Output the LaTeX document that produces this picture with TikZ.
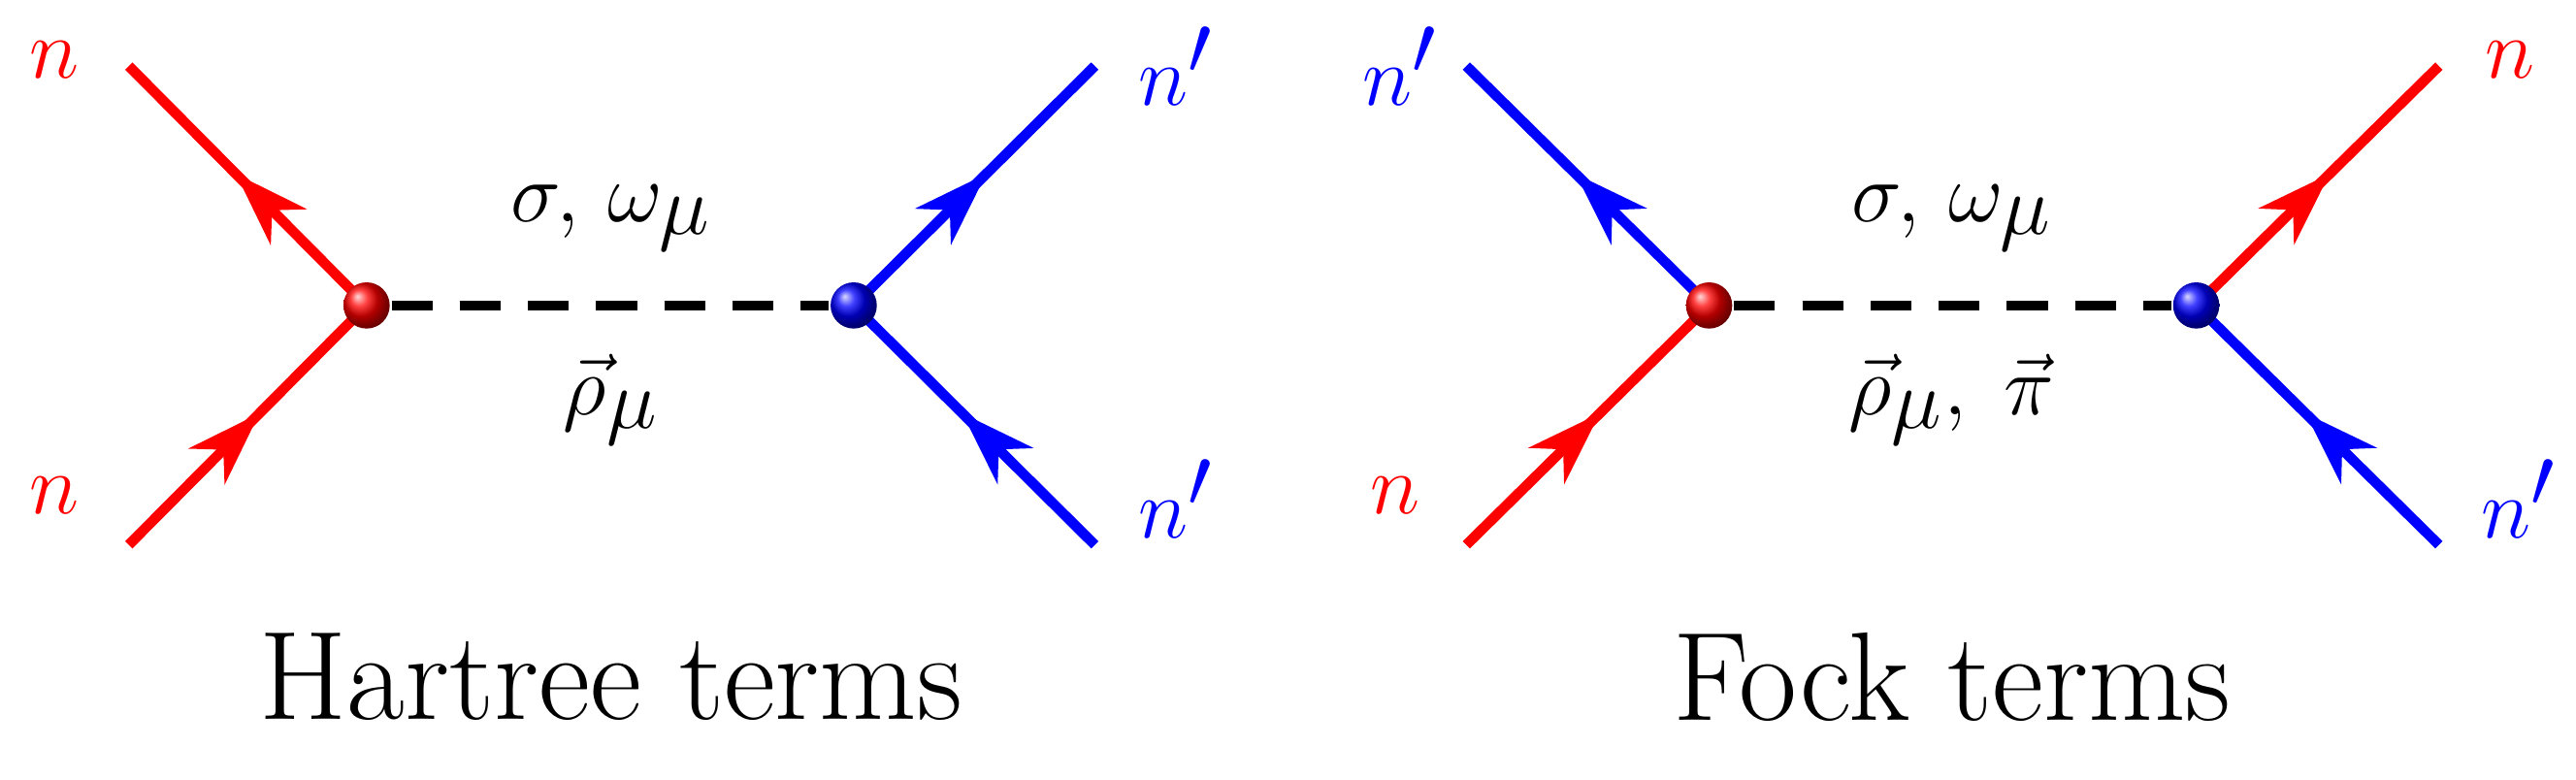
\documentclass[tikz,border=0pt]{standalone}
\usetikzlibrary{decorations.markings,arrows.meta}
\begin{document}
\begin{tikzpicture}[x=1.702cm,y=-1.702cm,
  fer/.style={line width=3pt,postaction={decorate},decoration={markings,mark=at position 0.55 with {\arrow[line width=0.8pt]{Stealth[length=22pt,width=15pt,inset=7pt]}}}},
  bos/.style={line width=3pt,dash pattern=on 12pt off 8pt},
  lab/.style={font=\fontsize{34}{40}\selectfont},
  captxt/.style={font=\fontsize{37}{44}\selectfont},
  vtx/.style={circle,inner sep=0pt,minimum size=0.5cm}]
\useasboundingbox (0,0) rectangle (15.6,4.724);
% Hartree
\coordinate (a1) at (0.78,0.40); \coordinate (a2) at (0.78,3.30);
\coordinate (a3) at (6.63,0.40); \coordinate (a4) at (6.63,3.30);
\node[vtx] (hr) at (2.22,1.85) {}; \node[vtx] (hb) at (5.17,1.85) {};
\draw[bos] (hr) -- (hb);
\draw[fer,red] (hr.center) -- (a1);
\draw[fer,red] (a2) -- (hr.center);
\draw[fer,blue] (hb.center) -- (a3);
\draw[fer,blue] (a4) -- (hb.center);
\shade[ball color=red] (hr.center) circle (0.14);
\shade[ball color=blue] (hb.center) circle (0.14);
\node[lab,red] (l1) at (0.33,0.36) {$n$};
\node[lab,red] (l2) at (0.33,3.00) {$n$};
\node[lab,blue] (l3) at (7.12,0.40) {$n'$};
\node[lab,blue] (l4) at (7.12,3.02) {$n'$};
\node[lab] (m1) at (3.70,1.32) {$\sigma,\,\omega_\mu$};
\node[lab] (m2) at (3.70,2.42) {$\vec\rho_\mu$};
\node[captxt] (c1) at (3.70,4.10) {Hartree terms};
% Fock
\coordinate (b1) at (8.88,0.40); \coordinate (b2) at (8.88,3.30);
\coordinate (b3) at (14.77,0.40); \coordinate (b4) at (14.77,3.30);
\node[vtx] (fr) at (10.35,1.85) {}; \node[vtx] (fb) at (13.30,1.85) {};
\draw[bos] (fr) -- (fb);
\draw[fer,blue] (fr.center) -- (b1);
\draw[fer,red] (b2) -- (fr.center);
\draw[fer,red] (fb.center) -- (b3);
\draw[fer,blue] (b4) -- (fb.center);
\shade[ball color=red] (fr.center) circle (0.14);
\shade[ball color=blue] (fb.center) circle (0.14);
\node[lab,blue] (k1) at (8.48,0.40) {$n'$};
\node[lab,red] (k2) at (8.45,3.00) {$n$};
\node[lab,red] (k3) at (15.20,0.36) {$n$};
\node[lab,blue] (k4) at (15.25,3.02) {$n'$};
\node[lab] (p1) at (11.82,1.32) {$\sigma,\,\omega_\mu$};
\node[lab] (p2) at (11.82,2.42) {$\vec\rho_\mu,\;\vec\pi$};
\node[captxt] (c2) at (11.82,4.10) {Fock terms};
\end{tikzpicture}
\end{document}
